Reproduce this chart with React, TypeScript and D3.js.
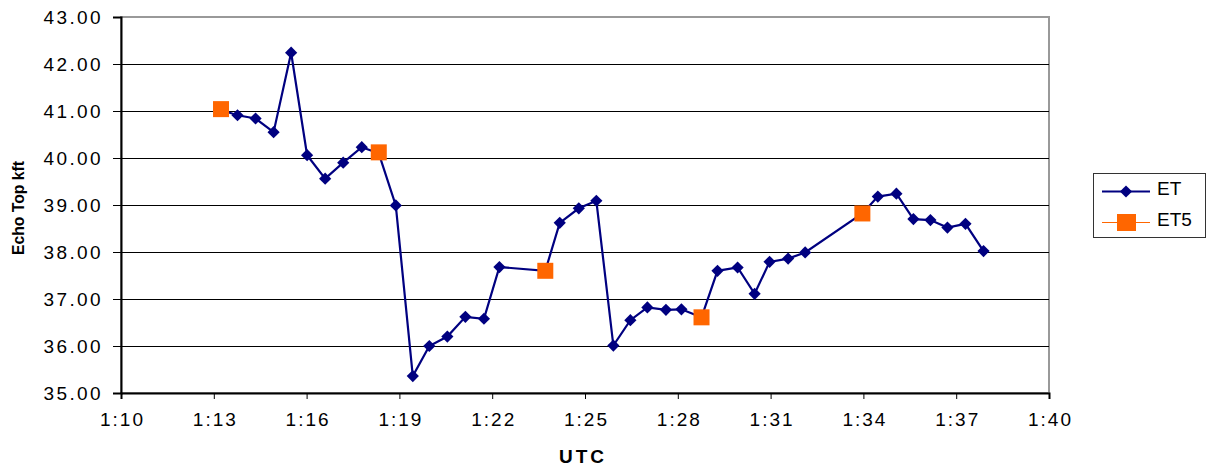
import React, { useEffect, useRef } from 'react';
import * as d3 from 'd3';

// ET samples (UTC time, echo top in kft)
const etTimes = [
  '1:13:14', '1:13:46', '1:14:21', '1:14:56', '1:15:30', '1:16:01', '1:16:36', '1:17:11',
  '1:17:47', '1:18:20', '1:18:53', '1:19:26', '1:19:58', '1:20:33', '1:21:08', '1:21:44',
  '1:22:14', '1:23:43', '1:24:11', '1:24:48', '1:25:22', '1:25:55', '1:26:28', '1:27:01',
  '1:27:37', '1:28:07', '1:28:46', '1:29:17', '1:29:56', '1:30:29', '1:30:58', '1:31:34',
  '1:32:07', '1:33:58', '1:34:28', '1:35:04', '1:35:37', '1:36:10', '1:36:43', '1:37:18',
  '1:37:53',
];
const etValues = [
  41.02, 40.91, 40.84, 40.55, 42.24, 40.06, 39.56, 39.9,
  40.23, 40.1, 38.99, 35.36, 36.0, 36.2, 36.62, 36.58,
  37.68, 37.6, 38.62, 38.93, 39.09, 36.01, 36.55, 36.82,
  36.77, 36.78, 36.61, 37.6, 37.67, 37.11, 37.79, 37.86,
  37.99, 38.82, 39.18, 39.24, 38.7, 38.68, 38.52, 38.6,
  38.02,
];

// ET5 samples
const et5Times = ['1:13:14', '1:18:20', '1:23:43', '1:28:46', '1:33:58'];
const et5Values = [41.04, 40.12, 37.6, 36.61, 38.82];

const xTicks = ['1:10', '1:13', '1:16', '1:19', '1:22', '1:25', '1:28', '1:31', '1:34', '1:37', '1:40'];
const yTicks = [35, 36, 37, 38, 39, 40, 41, 42, 43];

const parse = d3.timeParse('%H:%M:%S');
const parseTick = d3.timeParse('%H:%M');
const font = '"Liberation Sans", Arial, sans-serif';

export default function App() {
  const ref = useRef<SVGSVGElement>(null);

  useEffect(() => {
    const svg = d3.select(ref.current);
    svg.selectAll('*').remove();

    const margin = { top: 17, left: 121, right: 1049, bottom: 393 };

    const tickDates = xTicks.map(t => parseTick(t) as Date);

    const x = d3.scaleTime()
      .domain([tickDates[0], tickDates[tickDates.length - 1]])
      .range([margin.left, margin.right]);

    const y = d3.scaleLinear()
      .domain([35, 43])
      .range([margin.bottom, margin.top]);

    const et = etTimes.map((t, i) => ({ t: parse(t) as Date, v: etValues[i] }));
    const et5 = et5Times.map((t, i) => ({ t: parse(t) as Date, v: et5Values[i] }));

    // plot area border
    svg.append('rect')
      .attr('x', margin.left)
      .attr('y', margin.top)
      .attr('width', margin.right - margin.left)
      .attr('height', margin.bottom - margin.top)
      .attr('fill', 'white')
      .attr('stroke', '#999')
      .attr('stroke-width', 2);

    // gridlines
    svg.append('g')
      .selectAll('line')
      .data(yTicks.slice(1, -1))
      .join('line')
      .attr('x1', margin.left)
      .attr('x2', margin.right)
      .attr('y1', d => Math.round(y(d)) + 0.5)
      .attr('y2', d => Math.round(y(d)) + 0.5)
      .attr('stroke', '#000')
      .attr('stroke-width', 1);

    // y axis
    const yAxis = svg.append('g')
      .attr('transform', `translate(${margin.left},0)`)
      .call(d3.axisLeft(y).tickValues(yTicks).tickSize(8).tickPadding(10).tickFormat(d3.format('.2f')));
    yAxis.select('.domain').attr('stroke', '#000').attr('stroke-width', 2);
    yAxis.selectAll('.tick line').attr('stroke', '#000');
    yAxis.selectAll('.tick text')
      .attr('font-family', font)
      .attr('font-size', 19)
      .attr('letter-spacing', 2.4)
      .attr('fill', '#000')
      .attr('dy', '0.36em');
    yAxis.attr('font-size', null).attr('font-family', null);

    // x axis
    const xAxis = svg.append('g')
      .attr('transform', `translate(0,${margin.bottom})`)
      .call(d3.axisBottom(x).tickValues(tickDates).tickSize(6).tickPadding(14)
        .tickFormat((d, i) => xTicks[i]));
    xAxis.select('.domain').attr('stroke', '#000').attr('stroke-width', 2);
    xAxis.selectAll('.tick line').attr('stroke', '#000');
    xAxis.selectAll('.tick text')
      .attr('font-family', font)
      .attr('font-size', 19)
      .attr('letter-spacing', 2)
      .attr('dx', 1)
      .attr('fill', '#000');
    xAxis.attr('font-size', null).attr('font-family', null);

    // ET line
    const line = d3.line<{ t: Date; v: number }>()
      .x(d => x(d.t))
      .y(d => y(d.v));

    svg.append('path')
      .datum(et)
      .attr('fill', 'none')
      .attr('stroke', '#000080')
      .attr('stroke-width', 2.2)
      .attr('d', line);

    const diamond = d3.symbol().type(d3.symbolDiamond2).size(95);
    svg.append('g')
      .selectAll('path')
      .data(et)
      .join('path')
      .attr('transform', d => `translate(${x(d.t)},${y(d.v)})`)
      .attr('d', diamond)
      .attr('fill', '#000080');

    // ET5 markers
    const sq = 16;
    svg.append('g')
      .selectAll('rect')
      .data(et5)
      .join('rect')
      .attr('x', d => x(d.t) - sq / 2)
      .attr('y', d => y(d.v) - sq / 2)
      .attr('width', sq)
      .attr('height', sq)
      .attr('fill', '#FF6600');

    // axis titles
    svg.append('text')
      .attr('x', 583)
      .attr('y', 463)
      .attr('text-anchor', 'middle')
      .attr('font-family', font)
      .attr('font-weight', 'bold')
      .attr('font-size', 19)
      .attr('letter-spacing', 3)
      .text('UTC');

    svg.append('text')
      .attr('transform', 'translate(24,208) rotate(-90)')
      .attr('text-anchor', 'middle')
      .attr('font-family', font)
      .attr('font-weight', 'bold')
      .attr('font-size', 17)
      .attr('textLength', 94)
      .attr('lengthAdjust', 'spacingAndGlyphs')
      .text('Echo Top kft');

    // legend
    const lg = svg.append('g');
    lg.append('rect')
      .attr('x', 1093.5)
      .attr('y', 173.5)
      .attr('width', 112)
      .attr('height', 64)
      .attr('fill', 'white')
      .attr('stroke', '#333')
      .attr('stroke-width', 1);
    lg.append('line')
      .attr('x1', 1102).attr('x2', 1150)
      .attr('y1', 191.5).attr('y2', 191.5)
      .attr('stroke', '#000080').attr('stroke-width', 2);
    lg.append('path')
      .attr('transform', 'translate(1126,191.5)')
      .attr('d', diamond)
      .attr('fill', '#000080');
    lg.append('text')
      .attr('x', 1157).attr('y', 194.5)
      .attr('font-family', font).attr('font-size', 19)
      .text('ET');
    lg.append('line')
      .attr('x1', 1102).attr('x2', 1150)
      .attr('y1', 222.5).attr('y2', 222.5)
      .attr('stroke', '#FF6600').attr('stroke-width', 1);
    lg.append('rect')
      .attr('x', 1117).attr('y', 214)
      .attr('width', 19).attr('height', 17)
      .attr('fill', '#FF6600');
    lg.append('text')
      .attr('x', 1157).attr('y', 226)
      .attr('font-family', font).attr('font-size', 19)
      .text('ET5');
  }, []);

  return (
    <svg
      ref={ref}
      width={1209}
      height={468}
      style={{ position: 'absolute', left: 0, top: 0, background: 'white' }}
    />
  );
}
